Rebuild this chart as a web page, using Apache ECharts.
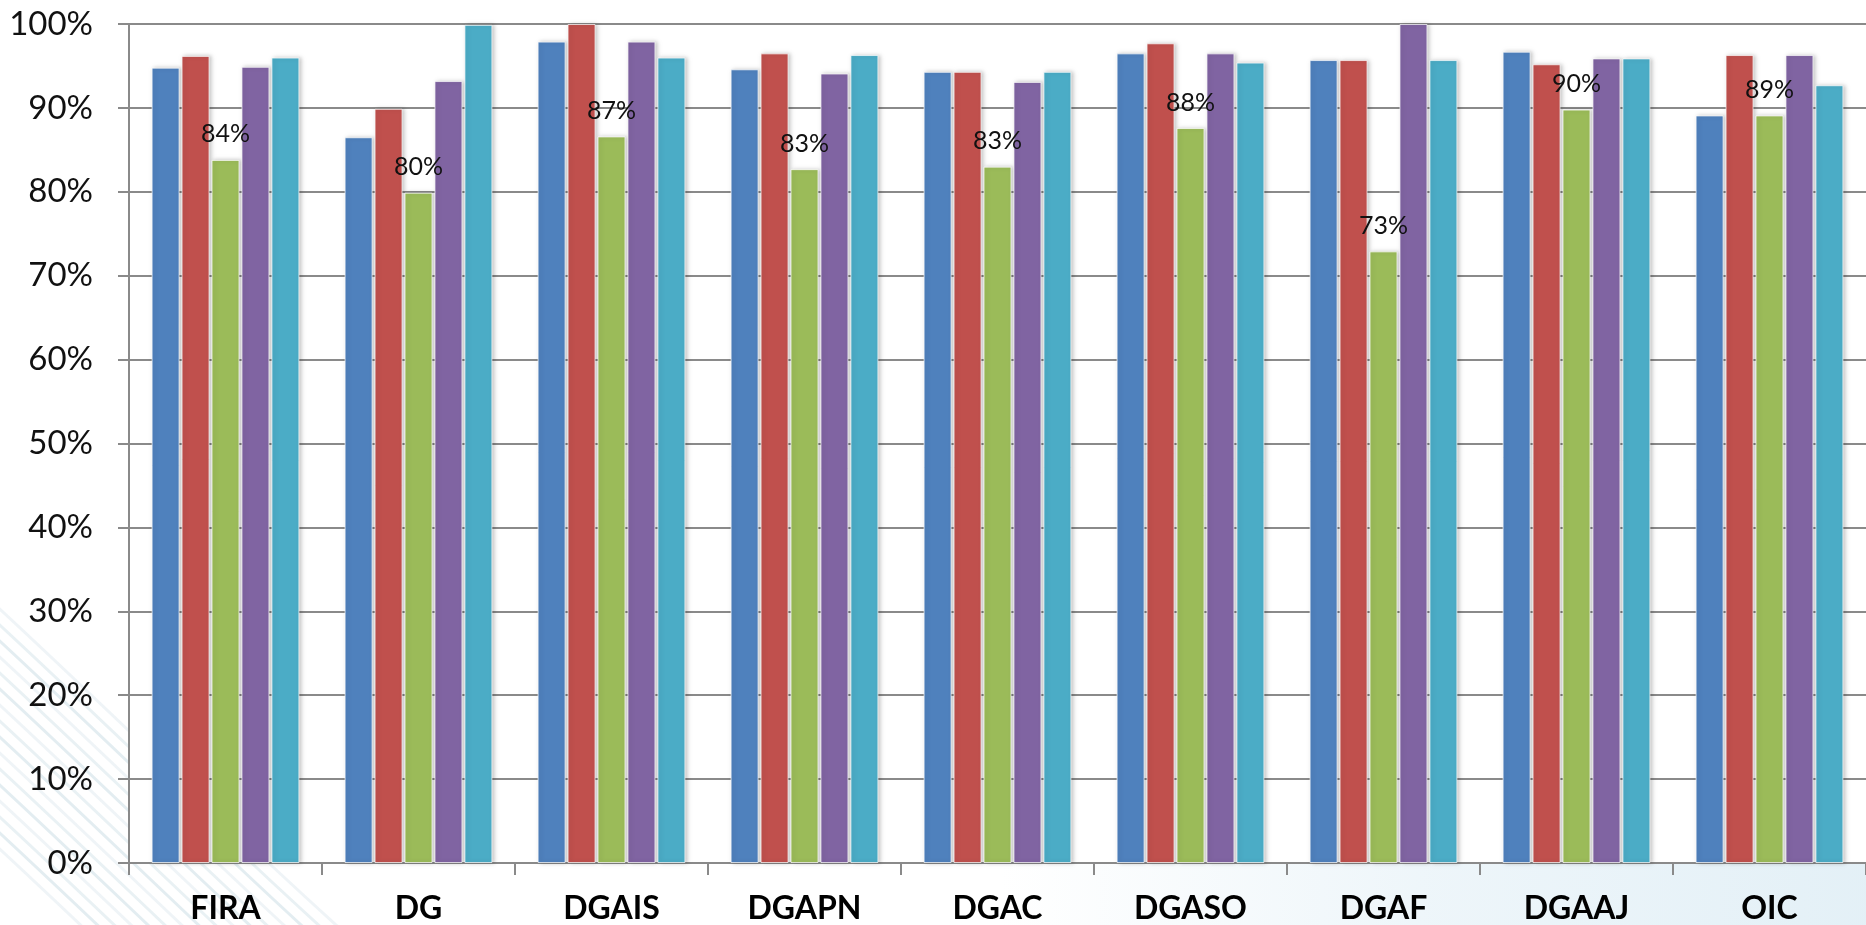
<!DOCTYPE html>
<html>
<head>
<meta charset="utf-8">
<script src="https://cdn.jsdelivr.net/npm/echarts@6/dist/echarts.min.js"></script>
<style>
html,body{margin:0;padding:0;background:#fff;}
#chart{width:1866px;height:925px;}
</style>
</head>
<body>
<div id="chart"></div>
<script>
const categories = ['FIRA','DG','DGAIS','DGAPN','DGAC','DGASO','DGAF','DGAAJ','OIC'];
const seriesBlue   = [94.8, 86.5, 97.9, 94.6, 94.3, 96.5, 95.7, 96.7, 89.1];
const seriesRed    = [96.2, 89.9, 100,  96.5, 94.3, 97.7, 95.7, 95.2, 96.3];
const seriesGreen  = [83.8, 79.9, 86.6, 82.7, 83.0, 87.6, 72.9, 89.8, 89.1];
const seriesPurple = [94.9, 93.2, 97.9, 94.1, 93.1, 96.5, 100,  95.9, 96.3];
const seriesTeal   = [96.0, 99.9, 96.0, 96.3, 94.3, 95.4, 95.7, 95.9, 92.7];
const yTicks = [0,10,20,30,40,50,60,70,80,90,100];

const colors = ['#4F81BD','#C0504D','#9BBB59','#8064A2','#4BACC6'];
const seriesData = [seriesBlue, seriesRed, seriesGreen, seriesPurple, seriesTeal];

const chart = echarts.init(document.getElementById('chart'), null, {renderer:'canvas'});

// faint decorative slide background
const bgGraphics = [];
for (let i = 0; i < 16; i++) {
  const o = i * 16;
  bgGraphics.push({
    type: 'bezierCurve',
    silent: true,
    z: -10,
    shape: {x1: -10, y1: 600 + o, x2: 420, y2: 1000 + o, cpx1: 120, cpy1: 720 + o, cpx2: 260, cpy2: 860 + o},
    style: {fill: null, stroke: 'rgba(140,180,195,' + (0.14 + (i % 3) * 0.05) + ')', lineWidth: 3}
  });
}
bgGraphics.push({
  type: 'rect', silent: true, z: -10,
  shape: {x: 1000, y: 864, width: 866, height: 61},
  style: {fill: new echarts.graphic.LinearGradient(0,0,1,0,[
    {offset:0,color:'rgba(205,228,240,0)'},{offset:0.5,color:'rgba(205,228,240,0.35)'},{offset:1,color:'rgba(205,228,240,0.55)'}])}
});
// white plot area
bgGraphics.push({
  type: 'rect', silent: true, z: -9,
  shape: {x: 130, y: 24, width: 1736, height: 839},
  style: {fill: '#ffffff'}
});

const series = seriesData.map((d, i) => ({
  type: 'bar',
  data: d,
  barGap: '7%',
  barCategoryGap: '23.4%',
  itemStyle: {
    color: colors[i],
    borderColor: 'rgba(255,255,255,0.7)',
    borderWidth: 1,
    shadowColor: 'rgba(0,0,0,0.22)',
    shadowBlur: 4,
    shadowOffsetX: 2,
    shadowOffsetY: 0
  },
  label: i === 2 ? {
    show: true,
    position: 'top',
    distance: 13,
    color: '#111',
    fontFamily: 'Lato',
    fontSize: 25,
    formatter: p => Math.round(p.value) + '%'
  } : {show: false}
}));

chart.setOption({
  backgroundColor: '#ffffff',
  animation: false,
  graphic: bgGraphics,
  grid: {left: 129, top: 24, width: 1740, height: 839, containLabel: false},
  xAxis: {
    type: 'category',
    data: categories,
    axisLine: {show: true, lineStyle: {color: '#8a8a8a', width: 2}},
    axisTick: {show: true, length: 12, lineStyle: {color: '#8a8a8a', width: 2}},
    axisLabel: {
      color: '#000',
      fontFamily: 'Lato',
      fontWeight: 'bold',
      fontSize: 32,
      margin: 30,
      interval: 0
    },
    splitLine: {show: false}
  },
  yAxis: {
    type: 'value',
    min: yTicks[0],
    max: yTicks[yTicks.length - 1],
    interval: 10,
    axisLine: {show: true, lineStyle: {color: '#8a8a8a', width: 2}},
    axisTick: {show: true, length: 11, lineStyle: {color: '#8a8a8a', width: 2}},
    axisLabel: {
      color: '#111',
      fontFamily: 'Lato',
      fontSize: 33,
      margin: 36,
      formatter: '{value}%'
    },
    splitLine: {show: true, lineStyle: {color: '#8a8a8a', width: 2}}
  },
  series: series
});
</script>
</body>
</html>
